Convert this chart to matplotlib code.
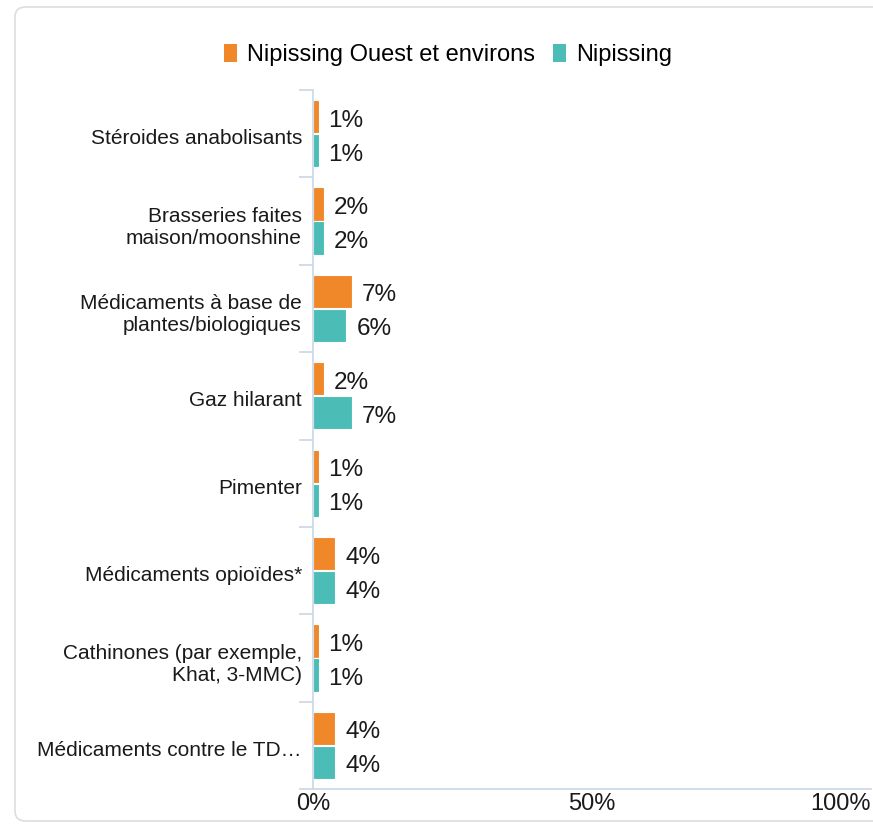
import numpy as np
import matplotlib
matplotlib.use("Agg")
from matplotlib import pyplot as plt
from matplotlib.patches import Patch, FancyBboxPatch
from matplotlib.transforms import ScaledTranslation

plt.rcParams['font.family'] = ['Liberation Sans', 'DejaVu Sans']

categories = [
	"Stéroides anabolisants",
	"Brasseries faites\nmaison/moonshine",
	"Médicaments à base de\nplantes/biologiques",
	"Gaz hilarant",
	"Pimenter",
	"Médicaments opioïdes*",
	"Cathinones (par exemple,\nKhat, 3-MMC)",
	"Médicaments contre le TD…",
]
ouest_values = [1, 2, 7, 2, 1, 4, 1, 4]
nipissing_values = [1, 2, 6, 7, 1, 4, 1, 4]
series_names = ["Nipissing Ouest et environs", "Nipissing"]
x_ticks = [0, 50, 100]
x_tick_labels = ["0%", "50%", "100%"]

orange = "#F0882A"
teal = "#4BBDB6"
axis_color = "#C9D7E6"
text_color = "#1A1A1A"

fig = plt.figure(figsize=(8.73, 8.24), dpi=100)
ax = fig.add_axes([313 / 873, 1 - 789 / 824, 558 / 873, (789 - 90) / 824])

# rounded card border, right edge runs off the picture
fig.patches.append(FancyBboxPatch(
	(15 / 873, 1 - 821 / 824), 1.05, (821 - 7) / 824,
	boxstyle="round,pad=0,rounding_size=0.012",
	transform=fig.transFigure, facecolor="none",
	edgecolor="#DDDDDD", linewidth=1.2, zorder=-1
))

y = np.arange(len(categories))
bar_h = 0.38
ax.barh(y - 0.195, ouest_values, height=bar_h, color=orange, edgecolor="white", linewidth=0.8)
ax.barh(y + 0.195, nipissing_values, height=bar_h, color=teal, edgecolor="white", linewidth=0.8)

# value labels sit a few px below bar centre, like the original
shift_down = ScaledTranslation(0, -4 / 100, fig.dpi_scale_trans)
for i in range(len(categories)):
	ax.text(ouest_values[i] + 1.8, y[i] - 0.195, f"{ouest_values[i]}%", va="center", ha="left",
		fontsize=17.5, color=text_color, transform=ax.transData + shift_down)
	ax.text(nipissing_values[i] + 1.8, y[i] + 0.195, f"{nipissing_values[i]}%", va="center", ha="left",
		fontsize=17.5, color=text_color, transform=ax.transData + shift_down)

ax.set_xlim(0, 100)
ax.set_ylim(len(categories) - 0.5, -0.5)

# category labels at centres, separator ticks at boundaries
ax.set_yticks(y)
ax.set_yticklabels(categories, fontsize=15, color=text_color)
ax.tick_params(axis="y", which="major", length=0, pad=8)
ax.set_yticks(np.arange(-0.5, len(categories), 1), minor=True)
ax.tick_params(axis="y", which="minor", length=10, width=1.2, color=axis_color)
lab_shift = ScaledTranslation(0, -3 / 100, fig.dpi_scale_trans)
for lab in ax.get_yticklabels():
	lab.set_transform(lab.get_transform() + lab_shift)

ax.set_xticks(x_ticks)
ax.set_xticklabels(x_tick_labels, fontsize=17, color=text_color)
ax.tick_params(axis="x", length=0, pad=3)
ax.get_xticklabels()[-1].set_ha("right")

for side in ["top", "right"]:
	ax.spines[side].set_visible(False)
for side in ["left", "bottom"]:
	ax.spines[side].set_color(axis_color)
	ax.spines[side].set_linewidth(1.2)

handles = [
	Patch(facecolor=orange, edgecolor="none"),
	Patch(facecolor=teal, edgecolor="none"),
]
fig.legend(
	handles, series_names,
	loc="center", bbox_to_anchor=(448 / 873, 1 - 55 / 824),
	ncol=2, frameon=False, fontsize=17,
	handlelength=0.55, handleheight=0.8, handletextpad=0.4, columnspacing=0.8
)

fig.savefig("out.png", dpi=100)
